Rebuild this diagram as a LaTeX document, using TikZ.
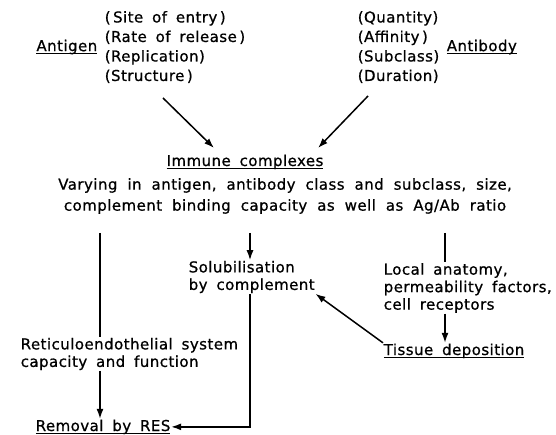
\documentclass[tikz,border=0pt]{standalone}
\usepackage{fontspec}
\setmainfont{DejaVu Sans}[LetterSpace=3, WordSpace=1.7, FakeBold=0.8]
\usetikzlibrary{positioning,arrows.meta}
\newcommand{\uln}[1]{\sbox0{#1}\rlap{\rule[-2.6pt]{\wd0}{1pt}}\usebox0}
\newcommand{\widesp}{\spaceskip=10pt plus 2pt\relax}
\tikzset{
  txt/.style={inner sep=0pt, align=left, font=\fontsize{15}{17.5}\selectfont},
  lst/.style={txt, font=\fontsize{15}{19.5}\selectfont},
}
\begin{document}
\begin{tikzpicture}[x=1pt, y=-1pt, line width=1.5pt, >={Latex[length=10pt,width=7pt]}]
\useasboundingbox (0,0) rectangle (556,435);
\node (aglist) [lst, anchor=west] at (104,47) {(\,Site of entry\,)\\(Rate of release\,)\\(Replication)\\(Structure\,)};
\node (ag) [txt, left=6pt of aglist] {\uln{Antigen}};
\node (ablist) [lst, anchor=west] at (357,47) {(Quantity)\\(Affinity\,)\\(Subclass)\\(Duration)};
\node (ab) [txt, right=6pt of ablist] {\uln{Antibody}};
\node (ic) [txt, anchor=base] at (245,166) {\uln{Immune complexes}};
\node (vary) [txt, font=\fontsize{15}{21}\selectfont\widesp, align=center] at (285,196) {Varying in antigen, antibody class and subclass, size,\\complement binding capacity as well as Ag/Ab ratio};
\node (sol) [txt, anchor=west] at (188,277) {Solubilisation\\by complement};
\node (loc) [txt, anchor=west] at (383,288) {Local anatomy,\\permeability factors,\\cell receptors};
\node (tis) [txt, anchor=base west] at (383,355) {\uln{Tissue deposition}};
\node (ret) [txt, anchor=west] at (20,354) {Reticuloendothelial system\\capacity and function};
\node (res) [txt, anchor=base west] at (35,431) {\uln{Removal by RES}};
\coordinate (l1) at (100,233);
\coordinate (m1) at (250,233);
\coordinate (r1) at (445,233);
\draw [->] (163,98) -- (214,148);
\draw [->] (368,96) -- (318,148);
\draw (l1) -- (l1 |- ret.north);
\draw [->] (m1) -- (m1 |- sol.north);
\draw (r1) -- (r1 |- loc.north);
\draw [->] (r1 |- loc.south) -- (r1 |- tis.north);
\draw [->] (tis.north west) -- (sol.south east);
\draw [->] (m1 |- sol.south) |- (res.east);
\draw [->] (l1 |- ret.south) -- (l1 |- res.north);
\end{tikzpicture}
\end{document}
